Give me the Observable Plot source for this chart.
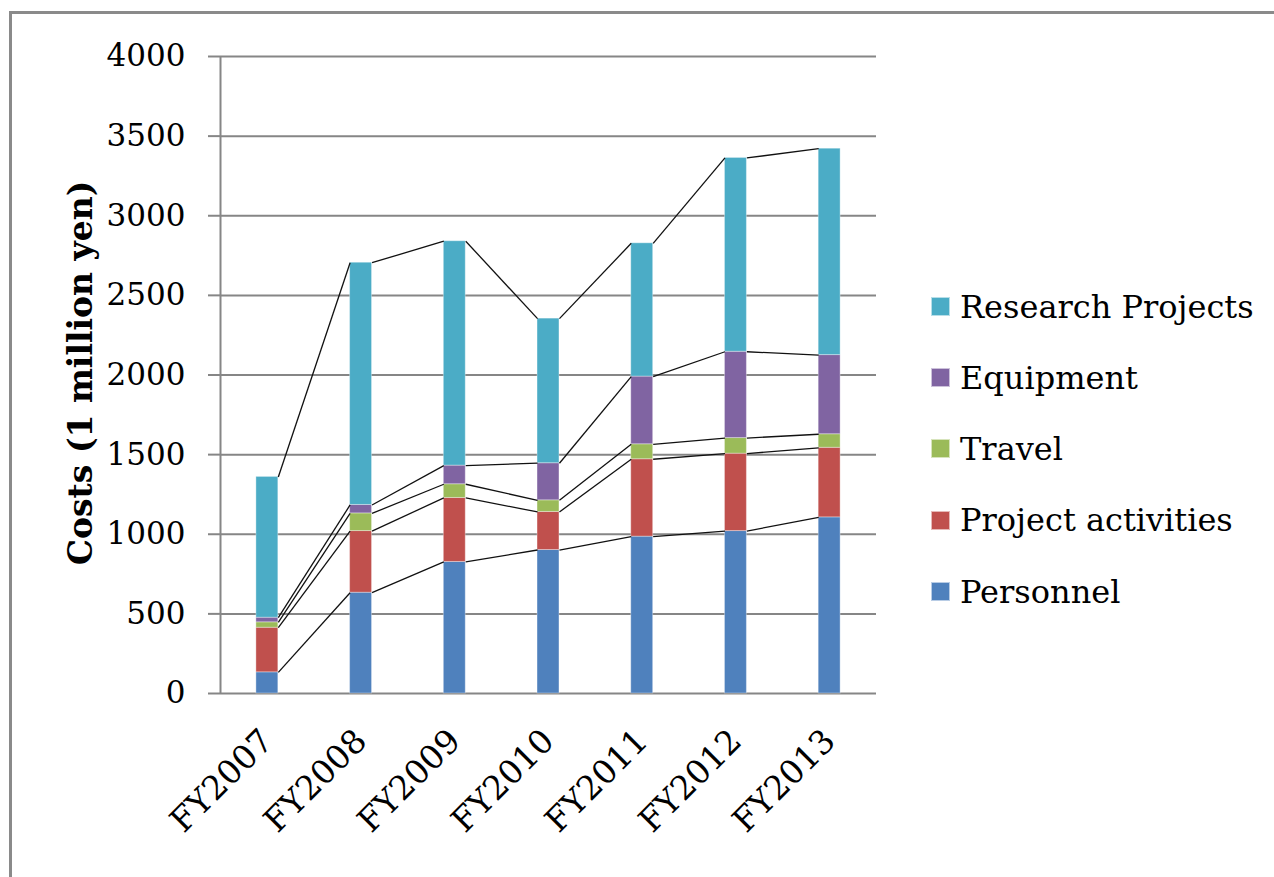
<!DOCTYPE html>
<html>
<head>
<meta charset="utf-8">
<script src="https://cdn.jsdelivr.net/npm/d3@7"></script>
<script src="https://cdn.jsdelivr.net/npm/@observablehq/plot@0.6"></script>
<style>
  html, body { margin: 0; padding: 0; background: #fff; }
  #wrap { position: relative; width: 1274px; height: 877px; overflow: hidden; font-family: "DejaVu Serif", serif; }
  #frame { position: absolute; left: 9px; top: 11px; width: 1400px; height: 1000px; border-left: 3px solid #8a8a8a; border-top: 3px solid #8a8a8a; box-sizing: border-box; }
  #chart { position: absolute; left: 0; top: 0; }
  #ytitle { position: absolute; left: 80px; top: 373px; transform: translate(-50%, -50%) rotate(-90deg); white-space: nowrap; font-weight: bold; font-size: 33px; color: #000; }
  .leg { position: absolute; left: 931px; display: flex; align-items: center; font-size: 32px; color: #000; white-space: nowrap; }
  .leg .sw { width: 19px; height: 19px; margin-right: 10px; box-sizing: border-box; border: 1px solid rgba(255,255,255,0.6); }
</style>
</head>
<body>
<div id="wrap">
  <div id="frame"></div>
  <div id="chart"></div>
  <div id="ytitle">Costs (1 million yen)</div>
  <div id="legend"></div>
</div>
<script>
const years = ["FY2007", "FY2008", "FY2009", "FY2010", "FY2011", "FY2012", "FY2013"];
const personnel = [133, 633, 826, 901, 985, 1020, 1106];
const projectActivities = [280, 387, 402, 239, 486, 486, 437];
const travel = [34, 111, 86, 73, 94, 98, 85];
const equipment = [29, 53, 117, 233, 425, 542, 497];
const researchProjects = [884, 1521, 1409, 908, 837, 1217, 1296];
const seriesNames = ["Personnel", "Project activities", "Travel", "Equipment", "Research Projects"];
const seriesColors = ["#4F81BD", "#C0504D", "#9BBB59", "#8064A2", "#4BACC6"];
const yTicks = [0, 500, 1000, 1500, 2000, 2500, 3000, 3500, 4000];

const seriesValues = [personnel, projectActivities, travel, equipment, researchProjects];
const hw = 0.117; // half bar width in category units

const rows = [];
const tops = seriesNames.map(() => []);
years.forEach((year, i) => {
  let acc = 0;
  seriesValues.forEach((vals, s) => {
    const y1 = acc;
    acc += vals[i];
    rows.push({ i, year, series: seriesNames[s], y1, y2: acc });
    tops[s].push(acc);
  });
});
const links = [];
seriesNames.forEach((name, s) => {
  for (let i = 0; i < years.length - 1; i++) {
    links.push({ series: name, x1: i + hw, x2: i + 1 - hw, y1: tops[s][i], y2: tops[s][i + 1] });
  }
});

const chart = Plot.plot({
  width: 1274,
  height: 877,
  marginLeft: 220,
  marginRight: 398,
  marginTop: 56,
  marginBottom: 184,
  style: { background: "transparent", fontFamily: "DejaVu Serif, serif", fontSize: "30px", color: "#000" },
  x: { type: "linear", domain: [-0.5, years.length - 0.5] },
  y: { domain: [0, 4000] },
  color: { domain: seriesNames, range: seriesColors },
  marks: [
    Plot.gridY(yTicks, { stroke: "#868686", strokeOpacity: 1, strokeWidth: 2 }),
    Plot.ruleX([-0.5], { stroke: "#868686", strokeWidth: 2 }),
    Plot.axisY(yTicks, { tickSize: 12, tickPadding: 23, stroke: "#868686", strokeWidth: 2, label: null, fontSize: 31, tickFormat: d => String(d) }),
    Plot.axisX(d3.range(years.length), { tickFormat: i => years[i], tickRotate: -45, tickSize: 0, tickPadding: 42, label: null, fontSize: 33 }),
    Plot.rectY(rows, { x1: d => d.i - hw, x2: d => d.i + hw, y1: "y1", y2: "y2", fill: "series", stroke: "#ffffff", strokeOpacity: 0.35, strokeWidth: 1 }),
    Plot.link(links, { x1: "x1", x2: "x2", y1: "y1", y2: "y2", stroke: "#111", strokeWidth: 1.3 })
  ]
});
document.getElementById("chart").appendChild(chart);

const legendTops = [306.7, 377.5, 448.5, 520, 591.5];
const legend = document.getElementById("legend");
seriesNames.slice().reverse().forEach((name, k) => {
  const idx = seriesNames.indexOf(name);
  const row = document.createElement("div");
  row.className = "leg";
  row.style.top = legendTops[k] + "px";
  row.style.transform = "translateY(-50%)";
  const sw = document.createElement("span");
  sw.className = "sw";
  sw.style.background = seriesColors[idx];
  const tx = document.createElement("span");
  tx.textContent = name;
  row.appendChild(sw);
  row.appendChild(tx);
  legend.appendChild(row);
});
</script>
</body>
</html>
